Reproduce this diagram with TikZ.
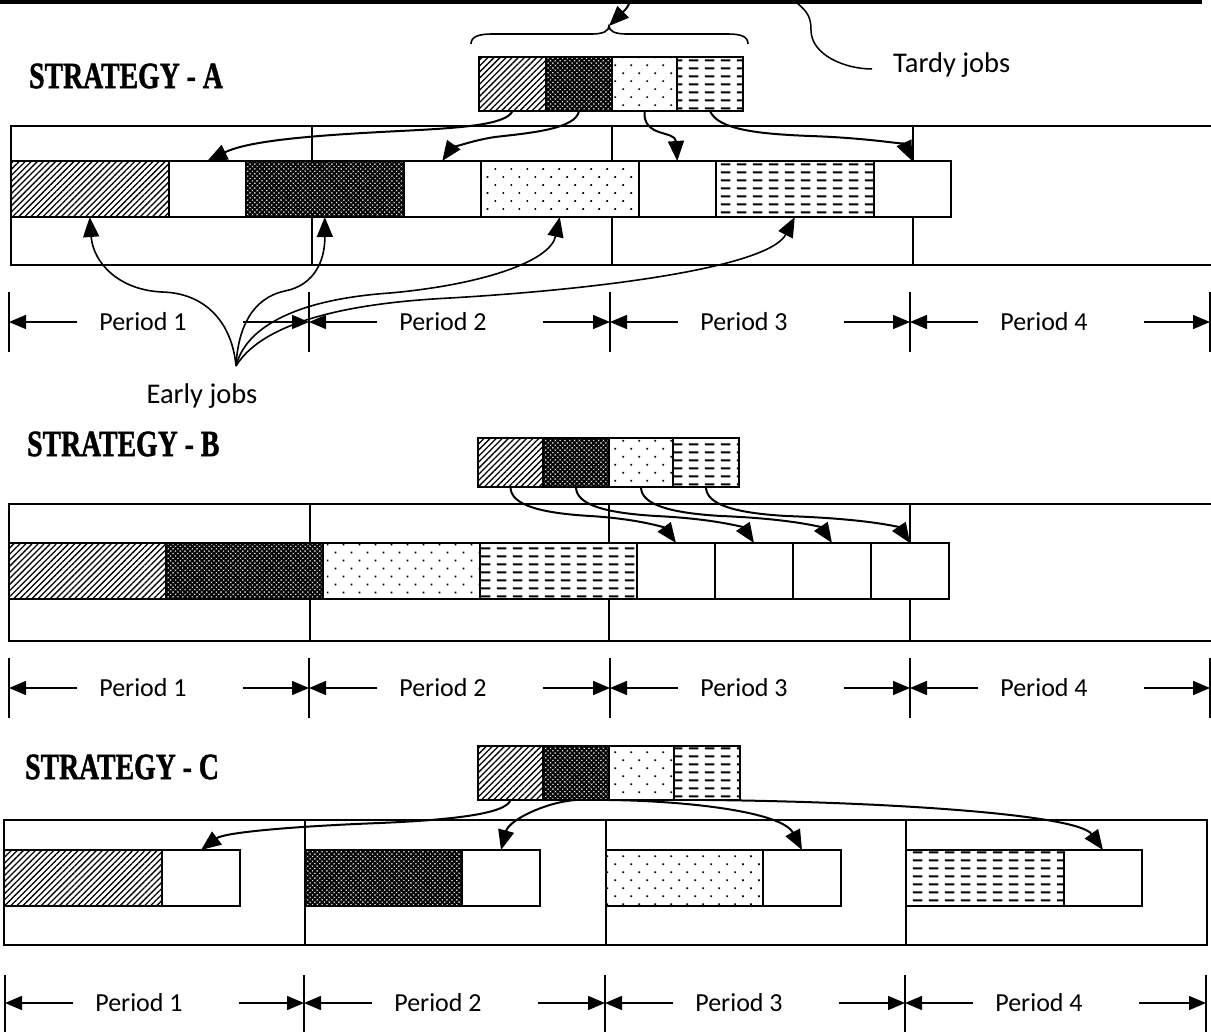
\documentclass[tikz,border=0pt]{standalone}
\usepackage{fontspec}
\setmainfont{Carlito}
\newfontfamily\stratfont[FakeBold=1.5]{Liberation Serif}
\usetikzlibrary{arrows.meta,patterns,patterns.meta}

\pgfdeclarepatternformonly{hdash}{\pgfpoint{0pt}{0pt}}{\pgfpoint{16pt}{8pt}}{\pgfpoint{16pt}{8pt}}{%
  \pgfsetlinewidth{2pt}%
  \pgfpathmoveto{\pgfpoint{1pt}{4pt}}%
  \pgfpathlineto{\pgfpoint{11pt}{4pt}}%
  \pgfusepath{stroke}%
}

\begin{document}
\begin{tikzpicture}[x=1pt,y=-1pt,
  cellbase/.style={draw, line width=2pt, inner sep=0pt, outer sep=0pt, anchor=north west},
  emptyc/.style={cellbase, fill=white},
  hatchc/.style={cellbase, preaction={fill=white}, pattern={Lines[angle=45,distance=4.3pt,line width=1.3pt]}},
  crossc/.style={cellbase, preaction={fill=white}, pattern={Hatch[angle=45,distance=3.4pt,line width=2pt]}},
  dotc/.style={cellbase, preaction={fill=white}, pattern={Dots[angle=45,distance=11.3pt,radius=1.2pt]}},
  dashc/.style={cellbase, preaction={fill=white}, pattern=hdash},
  frame/.style={line width=2pt},
  conn/.style={line width=2pt, -{Triangle[length=20pt,width=16pt]}},
  econn/.style={line width=1.6pt, -{Triangle[length=20pt,width=16pt]}},
  parr/.style={line width=1.5pt, -{Triangle[length=17pt,width=14pt]}},
  tickl/.style={line width=1.5pt},
  plbl/.style={font=\fontsize{26}{30}\selectfont, inner sep=0pt},
  jlbl/.style={font=\fontsize{28.5}{32}\selectfont, inner sep=0pt},
  strat/.style={anchor=west, inner sep=0pt, font=\stratfont\bfseries\fontsize{37}{42}\selectfont}
]
\useasboundingbox (0,0) rectangle (1211,1032);

% ---------------- top rule, brace and tardy label
\coordinate (topl) at (0,2);
\coordinate (topr) at (1202,2);
\draw[line width=3.2pt] (topl) -- (topr);
\coordinate (bt) at (609,26);
\draw[line width=1.6pt] (471,44) .. controls (471,37) and (478,34) .. (492,34) -- (592,34)
   .. controls (603,34) and (609,31) .. (bt) .. controls (609,31) and (615,34) .. (626,34)
   -- (728,34) .. controls (742,34) and (748,37) .. (748,44);
\coordinate (ba) at (631,0);
\draw[conn] (ba) .. controls (627,8) .. (bt);
\node[jlbl, anchor=base west] (tardy) at (893,73) {Tardy jobs};
\coordinate (tj0) at (797,3);
\coordinate (tj1) at (872,69);
\draw[line width=1.5pt] (tj0) .. controls (808,12) and (811,18) .. (811,30) .. controls (811,55) and (845,69) .. (tj1);

% ---------------- STRATEGY A
\node[strat] (sa) at (29,76) {\scalebox{0.75}[1]{STRATEGY - A}};
\draw[frame] (1213,126) -- (11,126) -- (11,265) -- (1213,265);
\foreach \x in {312,612,913} \draw[frame] (\x,126) -- (\x,265);

\node[hatchc, minimum width=67pt, minimum height=54pt] (ta1) at (479,57) {};
\node[crossc, minimum width=66pt, minimum height=54pt] (ta2) at (546,57) {};
\node[dotc,   minimum width=65pt, minimum height=54pt] (ta3) at (612,57) {};
\node[dashc,  minimum width=66pt, minimum height=54pt] (ta4) at (677,57) {};

\node[hatchc, minimum width=157.5pt, minimum height=56pt] (ra1) at (11,161) {};
\node[emptyc, minimum width=77.5pt,  minimum height=56pt] (ea1) at (168.5,161) {};
\node[crossc, minimum width=157.5pt, minimum height=56pt] (ra2) at (246,161) {};
\node[emptyc, minimum width=77.5pt,  minimum height=56pt] (ea2) at (403.5,161) {};
\node[dotc,   minimum width=157.5pt, minimum height=56pt] (ra3) at (481,161) {};
\node[emptyc, minimum width=77.5pt,  minimum height=56pt] (ea3) at (638.5,161) {};
\node[dashc,  minimum width=157.5pt, minimum height=56pt] (ra4) at (716,161) {};
\node[emptyc, minimum width=77.5pt,  minimum height=56pt] (ea4) at (873.5,161) {};

\draw[conn] (ta1.south) .. controls +(-6,14) and (460,128) .. (400,131) .. controls (320,135) and (250,140) .. (ea1.north);
\draw[conn] (ta2.south) .. controls +(-3,18) and (530,133) .. (495,137) .. controls (468,141) and (450,150) .. (ea2.north);
\draw[conn] (ta3.south) .. controls +(-2,27) and +(-2,-31) .. (ea3.north);
\draw[conn] (ta4.south) .. controls +(8,19) and (760,134) .. (810,136) .. controls (870,138) and (905,145) .. (ea4.north);

\coordinate (ej) at (236,366);
\node[jlbl, anchor=base] (early) at (202,403) {Early jobs};
\draw[econn] (ej) .. controls (232,322) and (205,293) .. (162,292) .. controls (118,290) and (93,262) .. (ra1.south);
\draw[econn] (ej) .. controls (238,328) and (252,298) .. (285,291) .. controls (315,285) and (325,260) .. (ra2.south);
\draw[econn] (ej) .. controls (245,330) and (290,300) .. (390,293) .. controls (480,285) and (550,262) .. (ra3.south);
\draw[econn] (ej) .. controls (255,335) and (310,305) .. (450,298) .. controls (620,288) and (770,265) .. (ra4.south);

\foreach \x in {9,309,610,910,1210} \draw[tickl] (\x,292) -- (\x,352);
\foreach \i/\a/\b in {1/9/309,2/309/610,3/610/910,4/910/1210}{
  \coordinate (pa\i) at (\a,322);
  \coordinate (pa\i e) at (\b,322);
  \draw[parr] ([xshift=68pt]pa\i) -- (pa\i);
  \node[plbl] (pla\i) at ([xshift=134pt]pa\i) {Period \i};
  \draw[parr] ([xshift=234pt]pa\i) -- (pa\i e);
}

% ---------------- STRATEGY B
\node[strat] (sb) at (27,444) {\scalebox{0.75}[1]{STRATEGY - B}};
\draw[frame] (1213,504) -- (9,504) -- (9,641) -- (1213,641);
\foreach \x in {310,609,910} \draw[frame] (\x,504) -- (\x,641);

\node[hatchc, minimum width=65pt, minimum height=49pt] (tb1) at (478,438) {};
\node[crossc, minimum width=66pt, minimum height=49pt] (tb2) at (543,438) {};
\node[dotc,   minimum width=64pt, minimum height=49pt] (tb3) at (609,438) {};
\node[dashc,  minimum width=66pt, minimum height=49pt] (tb4) at (673,438) {};

\node[hatchc, minimum width=157pt, minimum height=56pt] (rb1) at (9,543) {};
\node[crossc, minimum width=157pt, minimum height=56pt] (rb2) at (166,543) {};
\node[dotc,   minimum width=157pt, minimum height=56pt] (rb3) at (323,543) {};
\node[dashc,  minimum width=157pt, minimum height=56pt] (rb4) at (480,543) {};
\node[emptyc, minimum width=78pt, minimum height=56pt] (eb1) at (637,543) {};
\node[emptyc, minimum width=78pt, minimum height=56pt] (eb2) at (715,543) {};
\node[emptyc, minimum width=78pt, minimum height=56pt] (eb3) at (793,543) {};
\node[emptyc, minimum width=78pt, minimum height=56pt] (eb4) at (871,543) {};

\draw[conn] (tb1.south) .. controls +(0,18) and (540,513) .. (590,516) .. controls (640,519) and (665,528) .. (eb1.north);
\draw[conn] (tb2.south) .. controls +(0,18) and (606,513) .. (656,516) .. controls (718,519) and (744,528) .. (eb2.north);
\draw[conn] (tb3.south) .. controls +(0,18) and (671,513) .. (721,516) .. controls (796,519) and (822,528) .. (eb3.north);
\draw[conn] (tb4.south) .. controls +(0,18) and (736,513) .. (786,516) .. controls (874,519) and (900,528) .. (eb4.north);

\foreach \x in {9,309,610,910,1210} \draw[tickl] (\x,658) -- (\x,718);
\foreach \i/\a/\b in {1/9/309,2/309/610,3/610/910,4/910/1210}{
  \coordinate (pb\i) at (\a,688);
  \coordinate (pb\i e) at (\b,688);
  \draw[parr] ([xshift=68pt]pb\i) -- (pb\i);
  \node[plbl] (plb\i) at ([xshift=134pt]pb\i) {Period \i};
  \draw[parr] ([xshift=234pt]pb\i) -- (pb\i e);
}

% ---------------- STRATEGY C
\node[strat] (sc) at (25,767) {\scalebox{0.75}[1]{STRATEGY - C}};
\draw[frame] (4,820) rectangle (1207,945);
\foreach \x in {305,606,906} \draw[frame] (\x,820) -- (\x,945);

\node[hatchc, minimum width=65pt, minimum height=54pt] (tc1) at (478,746) {};
\node[crossc, minimum width=66pt, minimum height=54pt] (tc2) at (543,746) {};
\node[dotc,   minimum width=65pt, minimum height=54pt] (tc3) at (609,746) {};
\node[dashc,  minimum width=66pt, minimum height=54pt] (tc4) at (674,746) {};

\node[hatchc, minimum width=158pt, minimum height=56pt] (rc1) at (4,850) {};
\node[emptyc, minimum width=78pt,  minimum height=56pt] (ec1) at (162,850) {};
\node[crossc, minimum width=157pt, minimum height=56pt] (rc2) at (305,850) {};
\node[emptyc, minimum width=78pt,  minimum height=56pt] (ec2) at (462,850) {};
\node[dotc,   minimum width=157pt, minimum height=56pt] (rc3) at (606,850) {};
\node[emptyc, minimum width=78pt,  minimum height=56pt] (ec3) at (763,850) {};
\node[dashc,  minimum width=158pt, minimum height=56pt] (rc4) at (906,850) {};
\node[emptyc, minimum width=78pt,  minimum height=56pt] (ec4) at (1064,850) {};

\draw[conn] (tc1.south) .. controls +(-4,14) and (450,820) .. (380,823) .. controls (300,826) and (225,832) .. (ec1.north);
\draw[conn] (tc2.south) .. controls +(-30,2) and +(8,-30) .. (ec2.north);
\draw[conn] (tc3.south west) .. controls +(80,1) and +(-20,-38) .. (ec3.north);
\draw[conn] (tc4.south) .. controls +(190,2) and +(-25,-35) .. (ec4.north);

\foreach \x in {5,304,605,905,1206} \draw[tickl] (\x,975) -- (\x,1032);
\foreach \i/\a/\b in {1/5/304,2/304/605,3/605/905,4/905/1206}{
  \coordinate (pc\i) at (\a,1003);
  \coordinate (pc\i e) at (\b,1003);
  \draw[parr] ([xshift=68pt]pc\i) -- (pc\i);
  \node[plbl] (plc\i) at ([xshift=134pt]pc\i) {Period \i};
  \draw[parr] ([xshift=234pt]pc\i) -- (pc\i e);
}
\end{tikzpicture}
\end{document}
